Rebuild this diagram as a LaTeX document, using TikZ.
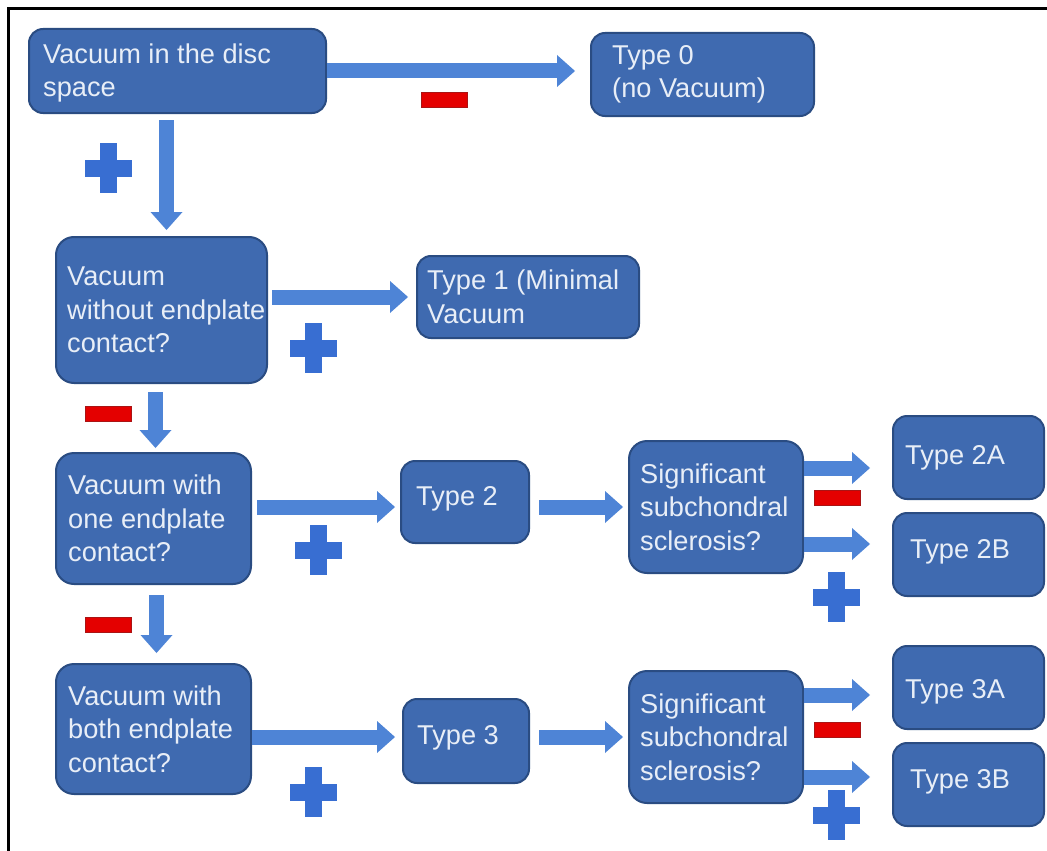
\documentclass[tikz,border=0pt]{standalone}
\usepackage{fontspec}
\setmainfont{Liberation Sans}
\usetikzlibrary{arrows.meta,calc}
\definecolor{boxfill}{RGB}{63,106,176}
\definecolor{boxdraw}{RGB}{42,76,130}
\definecolor{txtc}{RGB}{232,238,247}
\definecolor{arrowc}{RGB}{78,132,214}
\definecolor{plusc}{RGB}{56,110,210}
\definecolor{minusc}{RGB}{228,0,0}
\definecolor{minusd}{RGB}{170,20,20}
\begin{document}
\begin{tikzpicture}[x=1pt,y=-1pt,
  box/.style={draw=boxdraw, fill=boxfill, line width=2pt, rounded corners=14pt, anchor=north west, inner sep=0pt},
  bigbox/.style={box, rounded corners=18pt},
  txt/.style={text=txtc, anchor=west, align=left, inner sep=0pt, font=\fontsize{27.2}{33.5}\selectfont},
  arr/.style={draw=arrowc, line width=15pt, -{Triangle[width=32pt,length=18pt,line width=0pt]}},
  plussign/.pic={\fill[plusc] (-23.5,-8.5) rectangle (23.5,8.5); \fill[plusc] (-8.5,-25) rectangle (8.5,25);},
  minussign/.pic={\fill[minusc, draw=minusd, line width=0.6pt] (-23,-7.5) rectangle (23,7.5);}
]
\useasboundingbox (0,0) rectangle (1047,851);
\draw[line width=3pt] (8.5,851) -- (8.5,8.5) -- (1047,8.5);

% boxes
\node[box, minimum width=297pt, minimum height=84pt] (A) at (28,28) {};
\node[txt] (At) at ([xshift=15pt,yshift=-2pt]A.west) {Vacuum in the disc\\space};
\node[box, minimum width=223pt, minimum height=83pt] (T0) at (590,32) {};
\node[txt] (T0t) at ([xshift=22pt]T0.west) {Type 0\\(no Vacuum)};

\node[bigbox, minimum width=211pt, minimum height=146pt] (B) at (55,236) {};
\node[txt] (Bt) at ([xshift=12pt]B.west) {Vacuum\\without endplate\\contact?};
\node[box, minimum width=222pt, minimum height=82pt] (T1) at (416,255) {};
\node[txt] (T1t) at ([xshift=11pt]T1.west) {Type 1 (Minimal\\Vacuum};

\node[bigbox, minimum width=195pt, minimum height=131pt] (C) at (55,452) {};
\node[txt] (Ct) at ([xshift=13pt]C.west) {Vacuum with\\one endplate\\contact?};
\node[box, minimum width=128pt, minimum height=82pt] (T2) at (400,460) {};
\node[txt] (T2t) at ([xshift=16pt,yshift=3pt]T2.west) {Type 2};
\node[bigbox, minimum width=174pt, minimum height=132pt] (S1) at (628,440) {};
\node[txt] (S1t) at ([xshift=12pt]S1.west) {Significant\\subchondral\\sclerosis?};
\node[box, minimum width=151pt, minimum height=83pt] (T2A) at (892,415) {};
\node[txt] (T2At) at ([xshift=13pt]T2A.west) {Type 2A};
\node[box, minimum width=151pt, minimum height=83pt] (T2B) at (892,512) {};
\node[txt] (T2Bt) at ([xshift=18pt,yshift=3pt]T2B.west) {Type 2B};

\node[bigbox, minimum width=195pt, minimum height=130pt] (D) at (55,663) {};
\node[txt] (Dt) at ([xshift=13pt]D.west) {Vacuum with\\both endplate\\contact?};
\node[box, minimum width=126pt, minimum height=84pt] (T3) at (402,698) {};
\node[txt] (T3t) at ([xshift=15pt,yshift=3pt]T3.west) {Type 3};
\node[bigbox, minimum width=174pt, minimum height=132pt] (S2) at (628,670) {};
\node[txt] (S2t) at ([xshift=12pt]S2.west) {Significant\\subchondral\\sclerosis?};
\node[box, minimum width=151pt, minimum height=83pt] (T3A) at (892,645) {};
\node[txt] (T3At) at ([xshift=13pt,yshift=-4pt]T3A.west) {Type 3A};
\node[box, minimum width=151pt, minimum height=83pt] (T3B) at (892,742) {};
\node[txt] (T3Bt) at ([xshift=18pt,yshift=3pt]T3B.west) {Type 3B};

% connectors
\draw[arr, shorten >=15pt] (A.east) -- (A.east -| T0.west);
\draw[arr, shorten <=4pt, shorten >=8pt] (B.east |- T1.west) -- (T1.west);
\coordinate (c2) at ([yshift=-5pt]T2.west);
\draw[arr, shorten <=5pt, shorten >=5pt] (C.east |- c2) -- (c2);
\coordinate (d3) at ([yshift=4pt]T3.west);
\draw[arr, shorten >=7pt] (D.east |- d3) -- (d3);
\draw[arr, shorten <=9pt, shorten >=5pt] (T2.east |- S1.west) -- (S1.west);
\draw[arr, shorten <=9pt, shorten >=5pt] (T3.east |- S2.west) -- (S2.west);
\coordinate (s1a) at ([yshift=-28pt]S1.north east);
\coordinate (s1b) at ([yshift=30pt]S1.south east);
\coordinate (s2a) at ([yshift=-25pt]S2.north east);
\coordinate (s2b) at ([yshift=27pt]S2.south east);
\draw[arr, shorten >=22pt] (s1a) -- (s1a -| T2A.west);
\draw[arr, shorten >=22pt] (s1b) -- (s1b -| T2B.west);
\draw[arr, shorten >=22pt] (s2a) -- (s2a -| T3A.west);
\draw[arr, shorten >=22pt] (s2b) -- (s2b -| T3B.west);
\coordinate (ab) at ([xshift=-11pt]A.south);
\draw[arr, shorten <=6pt, shorten >=6pt] (ab) -- (ab |- B.north);
\coordinate (bc) at ([xshift=-6pt]B.south);
\draw[arr, shorten <=8pt, shorten >=4pt] (bc) -- (bc |- C.north);
\coordinate (cd) at ([xshift=3pt]C.south);
\draw[arr, shorten <=10pt, shorten >=10pt] (cd) -- (cd |- D.north);

% signs
\pic (p1) at (108,168) {plussign};
\pic (p2) at (313,348) {plussign};
\pic (p3) at (318,550) {plussign};
\pic (p4) at (313,792) {plussign};
\pic (p5) at (836,597) {plussign};
\pic (p6) at (836,815) {plussign};
\pic (m1) at (444,100) {minussign};
\pic (m2) at (108,414) {minussign};
\pic (m3) at (108,625) {minussign};
\pic (m4) at (837,498) {minussign};
\pic (m5) at (837,730) {minussign};
\end{tikzpicture}
\end{document}
